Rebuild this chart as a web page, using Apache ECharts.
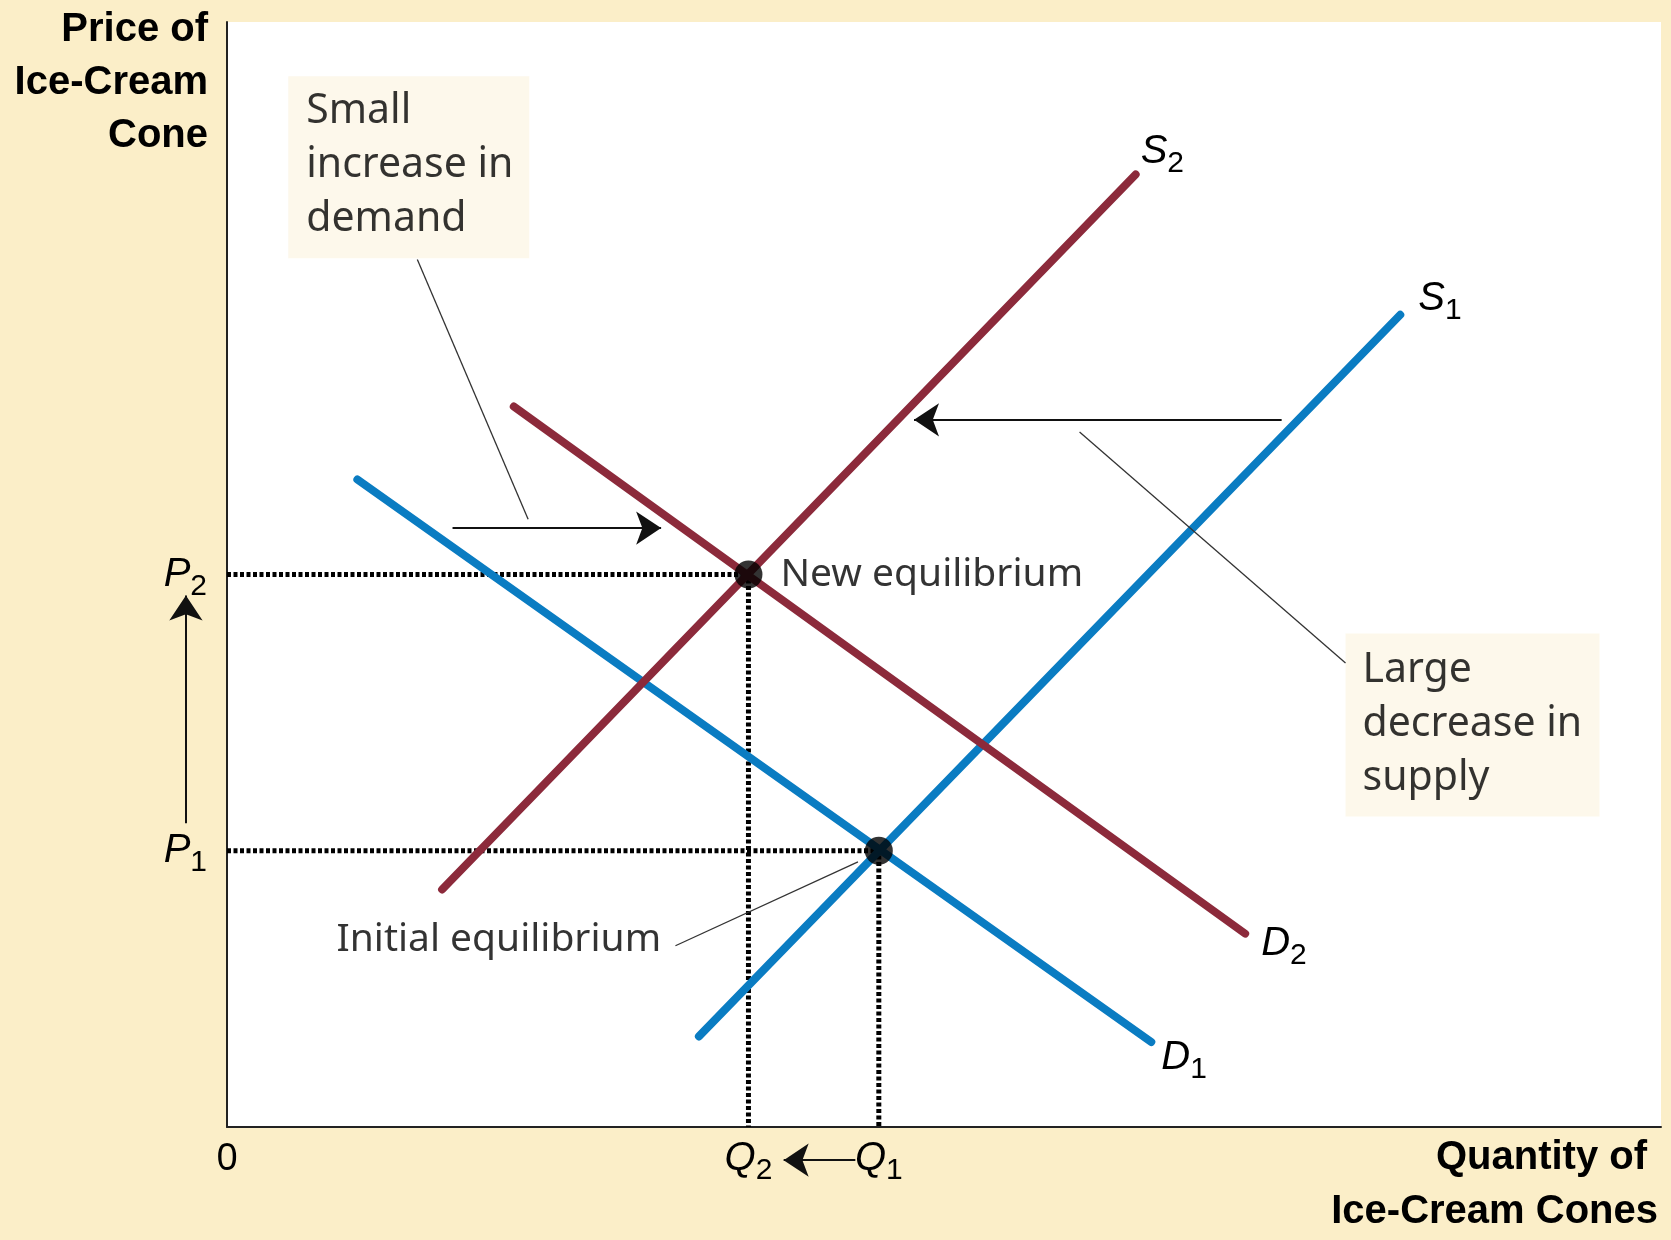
<!DOCTYPE html>
<html>
<head>
<meta charset="utf-8">
<title>Ice-Cream Market</title>
<script src="https://cdn.jsdelivr.net/npm/echarts@6/dist/echarts.min.js"></script>
<style>
  html, body { margin: 0; padding: 0; background: #fbeec8; }
  #chart { width: 1671px; height: 1240px; }
</style>
</head>
<body>
<div id="chart"></div>
<script>
// quantity axis runs a little past 100 so Q1 / Q2 land on round ticks
const xMax = 110;
const yMax = 100;

const priceLevels = [25, 50];        // P1, P2
const priceTickLabels = ['{i|P}{s|1}', '{i|P}{s|2}'];
const quantityLevels = [50, 40];     // Q1, Q2
const quantityTickLabels = ['{i|Q}{s|1}', '{i|Q}{s|2}'];

// curves (two end points each)
const demand1 = [[10, 58.6], [70.9, 7.7]];
const demand2 = [[22, 65.2], [78.1, 17.5]];
const supply1 = [[36.2, 8.2], [90, 73.5]];
const supply2 = [[16.5, 21.5], [69.7, 86.2]];

// equilibria: initial, new
const equilibria = [[50, 25], [40, 50]];

// arrows: demand shift, supply shift, price rise, quantity fall
const shiftArrows = [
  [[17.3, 54.2], [33.3, 54.2]],
  [[80.9, 64.0], [52.7, 64.0]],
  [[-3.15, 27.5], [-3.15, 48.1]],
  [[48.2, -3.0], [42.7, -3.0]]
];

// thin pointer lines from the notes
const leaderLines = [
  [[14.6, 78.5], [23.1, 55.0]],
  [[65.4, 62.9], [85.8, 42.0]],
  [[34.4, 16.4], [48.4, 24.0]]
];

const BLUE = '#0a7cc2';
const MAROON = '#8c2a3b';
const INK = '#000';
const FONT = 'Liberation Sans, Arial, sans-serif';
const NOTE_FONT = 'Noto Sans, Liberation Sans, sans-serif';

const subRich = {
  i: { fontStyle: 'italic', fontSize: 40, fontFamily: FONT, color: INK },
  s: { fontSize: 30, fontFamily: FONT, color: INK, padding: [24, 0, 0, 0] },
  n: { fontSize: 38, fontFamily: NOTE_FONT, color: INK, lineHeight: 54 }
};

const chart = echarts.init(document.getElementById('chart'));

function curve(name, data, color, sub, offset) {
  return {
    name: name,
    type: 'line',
    data: data,
    symbol: 'none',
    silent: true,
    z: 4,
    lineStyle: { color: color, width: 8, cap: 'round' },
    endLabel: {
      show: true,
      distance: 0,
      offset: offset,
      formatter: '{i|' + name + '}{s|' + sub + '}',
      rich: subRich
    }
  };
}

function guide(pt) {
  return {
    type: 'line',
    data: [[0, pt[1]], pt, [pt[0], 0]],
    symbol: 'none',
    silent: true,
    z: 2,
    lineStyle: { color: '#000', width: 5, type: [4, 2.5] }
  };
}

const option = {
  backgroundColor: '#fbeec8',
  animation: false,
  grid: {
    left: 227, right: 10, top: 22, bottom: 113,
    show: true, backgroundColor: '#ffffff', borderWidth: 0
  },
  xAxis: {
    type: 'value', min: 0, max: xMax, interval: 10,
    axisLine: { lineStyle: { color: '#222', width: 2 } },
    axisTick: { show: false },
    splitLine: { show: false },
    axisLabel: {
      margin: 5, hideOverlap: false, showMinLabel: true,
      formatter: v => {
        if (v === 0) return '{n|0}';
        const k = quantityLevels.indexOf(v);
        return k >= 0 ? quantityTickLabels[k] : '';
      },
      rich: subRich
    }
  },
  yAxis: {
    type: 'value', min: 0, max: yMax, interval: 25,
    axisLine: { lineStyle: { color: '#222', width: 2 } },
    axisTick: { show: false },
    splitLine: { show: false },
    axisLabel: {
      margin: 20,
      formatter: v => {
        const k = priceLevels.indexOf(v);
        return k >= 0 ? priceTickLabels[k] : '';
      },
      rich: subRich
    }
  },
  graphic: [
    {
      type: 'text', x: 208, y: 3,
      style: {
        text: 'Price of\nIce-Cream\nCone', align: 'right', verticalAlign: 'top',
        fontSize: 40, fontWeight: 'bold', fontFamily: FONT, lineHeight: 53, fill: INK
      }
    },
    {
      type: 'text', x: 1647, y: 1158,
      style: {
        text: 'Quantity of', align: 'right', verticalAlign: 'middle',
        fontSize: 40, fontWeight: 'bold', fontFamily: FONT, fill: INK
      }
    },
    {
      type: 'text', x: 1658, y: 1212,
      style: {
        text: 'Ice-Cream Cones', align: 'right', verticalAlign: 'middle',
        fontSize: 40, fontWeight: 'bold', fontFamily: FONT, fill: INK
      }
    }
  ],
  series: [
    guide(equilibria[0]),
    guide(equilibria[1]),
    curve('D', demand1, BLUE, '1', [10, 16]),
    curve('S', supply1, BLUE, '1', [18, -16]),
    curve('D', demand2, MAROON, '2', [16, 10]),
    curve('S', supply2, MAROON, '2', [5, -23]),
    {
      type: 'lines',
      coordinateSystem: 'cartesian2d',
      clip: false,
      silent: true,
      z: 5,
      symbol: ['none', 'arrow'],
      symbolSize: 25,
      lineStyle: { color: '#111', width: 2, opacity: 1 },
      data: shiftArrows.map(c => ({ coords: c }))
    },
    {
      type: 'lines',
      coordinateSystem: 'cartesian2d',
      silent: true,
      z: 5,
      symbol: 'none',
      lineStyle: { color: '#333', width: 1.3, opacity: 1 },
      data: leaderLines.map(c => ({ coords: c }))
    },
    {
      type: 'scatter',
      silent: true,
      z: 6,
      symbolSize: 28,
      itemStyle: { color: '#000' },
      data: [
        { value: equilibria[0] },
        {
          value: equilibria[1],
          label: {
            show: true, position: 'right', distance: 18,
            formatter: 'New equilibrium',
            fontSize: 39, fontFamily: NOTE_FONT, color: INK
          }
        }
      ]
    },
    {
      type: 'scatter',
      silent: true,
      z: 3,
      symbolSize: 0,
      label: {
        show: true, position: 'right', distance: 0,
        align: 'left', verticalAlign: 'top',
        fontSize: 41, fontFamily: NOTE_FONT, color: INK, lineHeight: 54,
        formatter: p => p.name
      },
      data: [
        {
          name: 'Small\nincrease in\ndemand', value: [4.7, 95.1],
          label: { backgroundColor: '#fdf6e6', padding: [8, 18, 12, 18], width: 205 }
        },
        {
          name: 'Large\ndecrease in\nsupply', value: [85.8, 44.65],
          label: { backgroundColor: '#fdf6e6', padding: [10, 16, 11, 17], width: 221 }
        },
        {
          name: 'Initial equilibrium', value: [33.3, 16.9],
          label: { position: 'left', align: 'right', verticalAlign: 'middle', fontSize: 39 }
        }
      ]
    }
  ]
};

chart.setOption(option);
</script>
</body>
</html>
